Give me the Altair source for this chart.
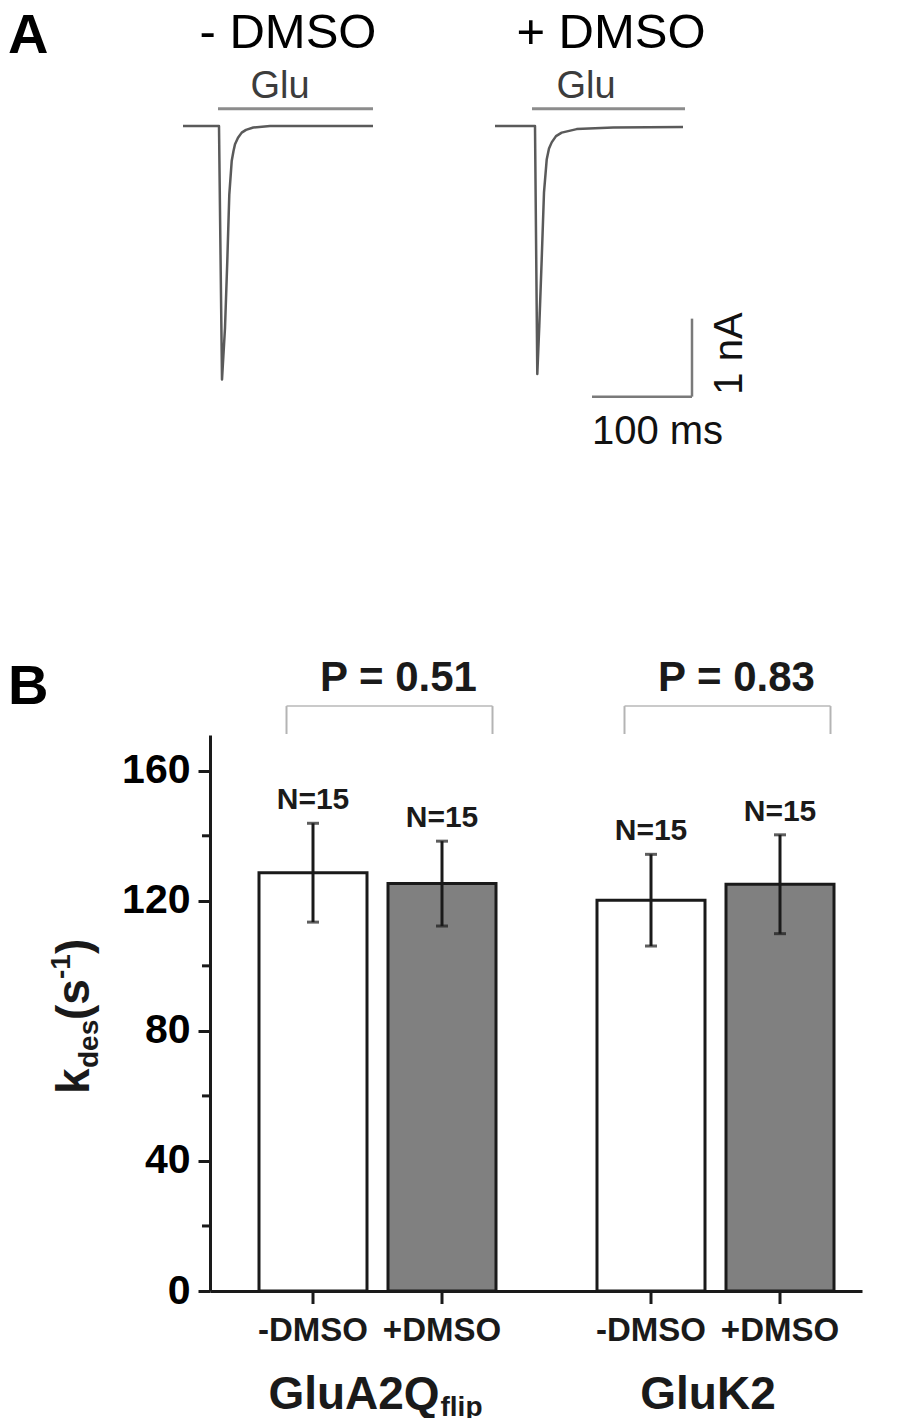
import altair as alt
import pandas as pd

FONT = "Liberation Sans"
INK = "#1a1a1a"

# ---------------- Panel A: example current traces ----------------
TRACE_NAMES = ["- DMSO", "+ DMSO"]
TRACE1_T_MS = [0, 36, 39, 42, 44.3, 46.3, 48.7, 50.5, 52, 55, 58.7, 63, 70.3, 87, 190]
TRACE1_I_NA = [0, 0, -3.25, -2.59, -1.73, -0.88, -0.45, -0.32, -0.235, -0.15, -0.085, -0.05, -0.02, 0, 0]
TRACE2_T_MS = [0, 40, 42.3, 44.3, 46.7, 49, 51.7, 54, 56.7, 61, 66.7, 81.7, 118.3, 188]
TRACE2_I_NA = [0, 0, -3.18, -2.56, -1.71, -0.85, -0.43, -0.29, -0.21, -0.13, -0.085, -0.04, -0.02, -0.013]
PANEL_GAP_MS = 312
GLU_LABEL = "Glu"
GLU_ON_MS = [35, 37]
GLU_OFF_MS = [190, 190]
SCALEBAR_MS = 100
SCALEBAR_NA = 1

# ---------------- Panel B: desensitization rates ----------------
GROUPS = ["GluA2Q", "GluK2"]
CONDITIONS = ["-DMSO", "+DMSO"]
KDES_MEAN = [128.65, 125.3, 120.2, 125.1]
KDES_ERR = [15.2, 13.05, 14.1, 15.2]
N_CELLS = [15, 15, 15, 15]
P_LABELS = ["P = 0.51", "P = 0.83"]
Y_TICKS = [0, 40, 80, 120, 160]
Y_MINOR = [20, 60, 100, 140]

# ---------------- tables ----------------
rows = []
for k, (ts, cs) in enumerate([(TRACE1_T_MS, TRACE1_I_NA), (TRACE2_T_MS, TRACE2_I_NA)]):
    for t, c in zip(ts, cs):
        rows.append({"trace": TRACE_NAMES[k], "t": t + k * PANEL_GAP_MS, "i": c})
traces = pd.DataFrame(rows)

glu = pd.DataFrame({
    "t0": [GLU_ON_MS[k] + k * PANEL_GAP_MS for k in range(2)],
    "t1": [GLU_OFF_MS[k] + k * PANEL_GAP_MS for k in range(2)],
    "lvl": [0.22, 0.22],
    "tx": [97, 91 + PANEL_GAP_MS],
    "ty": [0.504, 0.504],
    "label": [GLU_LABEL, GLU_LABEL],
})
titles = pd.DataFrame({"label": TRACE_NAMES, "t": [105, 116 + PANEL_GAP_MS], "i": [1.195, 1.195]})

SB_T = 197 + PANEL_GAP_MS
SB_I = -3.47
sbar = pd.DataFrame({
    "t0": [SB_T - SCALEBAR_MS, SB_T], "t1": [SB_T, SB_T],
    "i0": [SB_I, SB_I], "i1": [SB_I, SB_I + SCALEBAR_NA],
})
sb_ms = pd.DataFrame({"t": [162.5 + PANEL_GAP_MS], "i": [-3.92], "label": [f"{SCALEBAR_MS} ms"]})
sb_na = pd.DataFrame({"t": [234.8 + PANEL_GAP_MS], "i": [-2.917], "label": [f"{SCALEBAR_NA} nA"]})
one = pd.DataFrame({"k": [0]})

# panel A plot area is aligned with panel B's plot area (left edge at page x 210)
XA_SCALE = alt.Scale(domain=[27, 697], nice=False, zero=False)
YA_SCALE = alt.Scale(domain=[-4.167, 1.5], nice=False, zero=False)


def XA(f):
    return alt.X(f"{f}:Q", scale=XA_SCALE, axis=None)


def YA(f):
    return alt.Y(f"{f}:Q", scale=YA_SCALE, axis=None)


trace_layer = alt.Chart(traces).mark_line(color="#5a5a5a", strokeWidth=2.5, strokeJoin="round", clip=False).encode(
    x=XA("t"), y=YA("i"), detail="trace:N")
glu_rule = alt.Chart(glu).mark_rule(color="#8c8c8c", strokeWidth=3).encode(
    x=XA("t0"), x2="t1", y=YA("lvl"))
glu_text = alt.Chart(glu).mark_text(font=FONT, fontSize=38, color="#3c3c3c", baseline="middle").encode(
    x=XA("tx"), y=YA("ty"), text="label:N")
title_text = alt.Chart(titles).mark_text(font=FONT, fontSize=49, color="#000000", baseline="middle").encode(
    x=XA("t"), y=YA("i"), text="label:N")
sb_rule = alt.Chart(sbar).mark_rule(color="#7a7a7a", strokeWidth=2.5).encode(
    x=XA("t0"), x2="t1", y=YA("i0"), y2="i1")
sb_ms_text = alt.Chart(sb_ms).mark_text(font=FONT, fontSize=40, color="#111111", baseline="middle").encode(
    x=XA("t"), y=YA("i"), text="label:N")
sb_na_text = alt.Chart(sb_na).mark_text(font=FONT, fontSize=40, color="#111111", baseline="middle", angle=270).encode(
    x=XA("t"), y=YA("i"), text="label:N")
a_text = alt.Chart(one).mark_text(font=FONT, fontSize=56, fontWeight="bold", align="left",
                                  baseline="alphabetic", color="#000000").encode(
    x=alt.value(-202), y=alt.value(44), text=alt.value("A"))

panelA = alt.layer(trace_layer, glu_rule, glu_text, title_text, sb_rule, sb_ms_text, sb_na_text, a_text).properties(
    width=670, height=442)

# ---------------- Panel B ----------------
bars = pd.DataFrame({
    "group": [g for g in GROUPS for _ in CONDITIONS],
    "cond": CONDITIONS * 2,
    "mean": KDES_MEAN,
    "err": KDES_ERR,
    "n": N_CELLS,
})
bars["lo"] = bars["mean"] - bars["err"]
bars["hi"] = bars["mean"] + bars["err"]
bars["nlabel"] = "N=" + bars["n"].astype(str)

BRACKET_TOP = 179.9
BRACKET_LEG = 171.3
P_TEXT_Y = 188.5
brk = pd.DataFrame({"group": GROUPS, "p": P_LABELS, "top": [BRACKET_TOP] * 2,
                    "bot": [BRACKET_LEG] * 2, "ty": [P_TEXT_Y] * 2})
minor = pd.DataFrame({"v": Y_MINOR})
grp = pd.DataFrame({"group": GROUPS, "label": GROUPS})

XB_SCALE = alt.Scale(domain=GROUPS, paddingInner=0.2988, paddingOuter=0.1139, align=0.6364)
XO_SCALE = alt.Scale(domain=CONDITIONS, paddingInner=0.1628, paddingOuter=0)
YB_SCALE = alt.Scale(domain=[0, 171], nice=False, zero=True)
XB_AXIS = alt.Axis(labels=False, ticks=False, title=None, grid=False, domainWidth=3, domainColor=INK)
YB_AXIS = alt.Axis(values=Y_TICKS, title=None, grid=False, labelFont=FONT, labelFontSize=41,
                   labelFontWeight="bold", labelColor="#000000", labelPadding=8, tickSize=12,
                   tickWidth=3, tickColor=INK, domainWidth=3, domainColor=INK)


def XB(f="group"):
    return alt.X(f"{f}:N", scale=XB_SCALE, axis=XB_AXIS)


def XO(f="cond"):
    return alt.XOffset(f"{f}:N", scale=XO_SCALE)


def YB(f):
    return alt.Y(f"{f}:Q", scale=YB_SCALE, axis=YB_AXIS)


bar_layer = alt.Chart(bars).mark_bar(stroke=INK, strokeWidth=3).encode(
    x=XB(), xOffset=XO(), y=YB("mean"),
    fill=alt.Fill("cond:N", scale=alt.Scale(domain=CONDITIONS, range=["#ffffff", "#808080"]), legend=None))
err_rule = alt.Chart(bars).mark_rule(color=INK, strokeWidth=3).encode(
    x=XB(), xOffset=XO(), y=YB("lo"), y2="hi")
cap_lo = alt.Chart(bars).mark_tick(color=INK, size=12, thickness=3).encode(x=XB(), xOffset=XO(), y=YB("lo"))
cap_hi = alt.Chart(bars).mark_tick(color=INK, size=12, thickness=3).encode(x=XB(), xOffset=XO(), y=YB("hi"))
n_text = alt.Chart(bars).mark_text(font=FONT, fontSize=30, fontWeight="bold", color=INK,
                                   baseline="middle", dy=-23).encode(
    x=XB(), xOffset=XO(), y=YB("hi"), text="nlabel:N")
minor_ticks = alt.Chart(minor).mark_rule(color=INK, strokeWidth=3).encode(
    y=YB("v"), x=alt.value(-8), x2=alt.value(0))
x_ticks = alt.Chart(bars).mark_rule(color=INK, strokeWidth=3).encode(
    x=XB(), xOffset=XO(), y=alt.value(556), y2=alt.value(569))
cond_text = alt.Chart(bars).mark_text(font=FONT, fontSize=33, fontWeight="bold", color=INK,
                                      baseline="alphabetic").encode(
    x=XB(), xOffset=XO(), y=alt.value(606), text="cond:N")

g1 = alt.Chart(grp).transform_filter(alt.datum.group == GROUPS[0])
g2 = alt.Chart(grp).transform_filter(alt.datum.group == GROUPS[1])
grp1_text = g1.mark_text(font=FONT, fontSize=46, fontWeight="bold", color=INK, baseline="alphabetic", dx=-23.5).encode(
    x=XB(), y=alt.value(674), text="label:N")
grp1_sub = g1.mark_text(font=FONT, fontSize=28, fontWeight="bold", color=INK, baseline="alphabetic",
                        align="left", dx=63).encode(x=XB(), y=alt.value(681), text=alt.value("flip"))
grp2_text = g2.mark_text(font=FONT, fontSize=46, fontWeight="bold", color=INK, baseline="alphabetic", dx=-7.5).encode(
    x=XB(), y=alt.value(674), text="label:N")

BRK_COLOR = "#b4b4b4"
brk_top = alt.Chart(brk).mark_tick(color=BRK_COLOR, size=206, thickness=2, xOffset=12).encode(
    x=XB(), y=YB("top"))
brk_left = alt.Chart(brk).mark_rule(color=BRK_COLOR, strokeWidth=2, xOffset=-91).encode(
    x=XB(), y=YB("bot"), y2="top")
brk_right = alt.Chart(brk).mark_rule(color=BRK_COLOR, strokeWidth=2, xOffset=115).encode(
    x=XB(), y=YB("bot"), y2="top")
p_text = alt.Chart(brk).mark_text(font=FONT, fontSize=42, fontWeight="bold", color=INK,
                                  baseline="middle", dx=21).encode(x=XB(), y=YB("ty"), text="p:N")

b_text = alt.Chart(one).mark_text(font=FONT, fontSize=56, fontWeight="bold", align="left",
                                  baseline="alphabetic", color="#000000").encode(
    x=alt.value(-202), y=alt.value(-31), text=alt.value("B"))

# y-axis title k_des(s^-1), rotated, composed from pieces
title_pieces = [("k", 46, 0, 0), ("des", 28, 26, 9), ("(s", 46, 74, 0), ("-1", 28, 115, -19), (")", 46, 140, 0)]
ytitle_layers = []
for txt, fs, ddx, ddy in title_pieces:
    ytitle_layers.append(
        alt.Chart(one).mark_text(font=FONT, fontSize=fs, fontWeight="bold", color=INK, angle=270,
                                 align="left", baseline="alphabetic", dx=ddx, dy=ddy).encode(
            x=alt.value(-121), y=alt.value(359), text=alt.value(txt)))

panelB = alt.layer(bar_layer, err_rule, cap_lo, cap_hi, n_text, minor_ticks, x_ticks, cond_text,
                   grp1_text, grp1_sub, grp2_text, brk_top, brk_left, brk_right, p_text, b_text,
                   *ytitle_layers).properties(width=652, height=556)

chart = alt.vconcat(panelA, panelB, spacing=205).properties(
    padding=0, background="white"
).configure(font=FONT).configure_view(stroke=None)

chart.save("out.html", embed_options={"renderer": "svg", "actions": False})
